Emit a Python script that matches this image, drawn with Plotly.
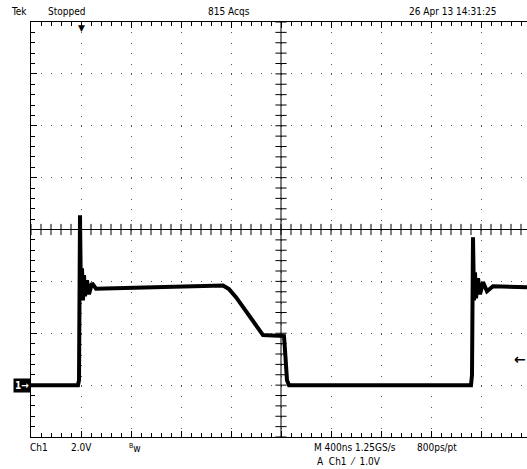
import plotly.graph_objects as go

# ---- Data (time in ns relative to trigger, volts) ----
t_ns = [-400, -24, -16, -8, 0, 8, 16, 24, 32, 48, 64, 88, 120, 560, 1136, 1184,
        1240, 1456, 1624, 1632, 1648, 1664, 3120, 3128, 3136, 3144, 3152, 3160,
        3176, 3192, 3216, 3248, 3296, 3568]
volts = [0.0, 0.0, 0.19, 6.55, 3.27, 4.50, 3.27, 4.24, 3.43, 4.04, 3.50, 3.93,
         3.72, 3.76, 3.84, 3.70, 3.39, 1.93, 1.89, 1.35, 0.19, 0.0, 0.0, 0.39,
         5.70, 3.27, 4.35, 3.35, 4.12, 3.50, 3.97, 3.62, 3.81, 3.77]

# ---- Scope settings ----
time_per_div = 400      # ns
volts_per_div = 2.0     # V
x_range = [-400, 3568]
y_range = [-2, 14]
center_t = 1600
center_v = 6
trigger_t = 0
trigger_level = 1.0

top_texts = ["Tek", "Stopped", "815 Acqs", "26 Apr 13 14:31:25"]
bottom_texts = ["Ch1", "2.0V", "<sup>B</sup>w", "M 400ns 1.25GS/s", "800ps/pt"]
bottom_line2 = "A  Ch1  \u2044  1.0V"

W, H = 527, 469
L, R, T, B = 31, 0, 22, 32
PW, PH = W - L - R, H - T - B

def px(x):          # page pixel -> paper
    return (x - L) / PW

def py(y):
    return (H - B - y) / PH

FONT = "Liberation Sans Narrow, DejaVu Sans Condensed, Arial Narrow, sans-serif"

fig = go.Figure()

# center graticule ticks
minor_t = [x_range[0] + time_per_div / 5 * i for i in range(int((x_range[1] - x_range[0]) / (time_per_div / 5)) + 1)]
minor_v = [y_range[0] + volts_per_div / 5 * i for i in range(41)]
fig.add_trace(go.Scatter(x=minor_t, y=[center_v] * len(minor_t), mode="markers",
                         marker=dict(symbol="line-ns", size=8, line=dict(color="black", width=1)),
                         hoverinfo="skip", showlegend=False, cliponaxis=False))
fig.add_trace(go.Scatter(x=[center_t] * len(minor_v), y=minor_v, mode="markers",
                         marker=dict(symbol="line-ew", size=8, line=dict(color="black", width=1)),
                         hoverinfo="skip", showlegend=False, cliponaxis=False))

# waveform
fig.add_trace(go.Scatter(x=t_ns, y=volts, mode="lines",
                         line=dict(color="black", width=4),
                         hoverinfo="skip", showlegend=False))

fig.add_hline(y=center_v, line=dict(color="black", width=1))
fig.add_vline(x=center_t, line=dict(color="black", width=1))

fig.update_xaxes(range=x_range, tick0=0, dtick=time_per_div, showticklabels=False,
                 ticks="inside", ticklen=6, tickcolor="black", tickwidth=1,
                 showline=True, linecolor="black", linewidth=1, mirror="ticks",
                 showgrid=True, gridcolor="#555", gridwidth=1, griddash="1px,9.4px",
                 zeroline=False,
                 minor=dict(dtick=time_per_div / 5, ticks="inside", ticklen=4,
                            tickcolor="black", showgrid=False))
fig.update_yaxes(range=y_range, tick0=0, dtick=volts_per_div, showticklabels=False,
                 ticks="inside", ticklen=6, tickcolor="black", tickwidth=1,
                 showline=True, linecolor="black", linewidth=1, mirror=False,
                 showgrid=True, gridcolor="#555", gridwidth=1, griddash="1px,9px",
                 zeroline=False,
                 minor=dict(dtick=volts_per_div / 5, ticks="inside", ticklen=4,
                            tickcolor="black", showgrid=False))

ann = []
top_x = [19, 66, 229, 452]
for txt, x in zip(top_texts, top_x):
    ann.append(dict(text=txt, x=px(x), y=py(12), xref="paper", yref="paper",
                    xanchor="center", yanchor="middle", showarrow=False,
                    font=dict(family=FONT, size=10, color="black")))
bot_x = [39, 81, 135, 355, 437]
for txt, x in zip(bottom_texts, bot_x):
    ann.append(dict(text=txt, x=px(x), y=py(448), xref="paper", yref="paper",
                    xanchor="center", yanchor="middle", showarrow=False,
                    font=dict(family=FONT, size=10, color="black")))
ann.append(dict(text=bottom_line2, x=px(315), y=py(461), xref="paper", yref="paper",
                xanchor="left", yanchor="middle", showarrow=False,
                font=dict(family=FONT, size=10, color="black")))
# trigger position marker
ann.append(dict(text="\u25BC", x=trigger_t, y=1, xref="x", yref="paper",
                xanchor="center", yanchor="top", showarrow=False, borderpad=0,
                font=dict(family="DejaVu Sans", size=9, color="black")))
# ground marker
ann.append(dict(text="<b>1\u2192</b>", x=0, y=0, xref="paper", yref="y",
                xanchor="right", yanchor="middle", showarrow=False,
                bgcolor="black", borderpad=1,
                font=dict(family=FONT, size=10, color="white")))
# trigger level marker
ann.append(dict(text="<b>\u2190</b>", x=1, y=trigger_level, xref="paper", yref="y",
                xanchor="right", yanchor="middle", showarrow=False, borderpad=0,
                font=dict(family="DejaVu Sans", size=14, color="black")))

fig.update_layout(width=W, height=H,
                  margin=dict(l=L, r=R, t=T, b=B, pad=0, autoexpand=False),
                  paper_bgcolor="white", plot_bgcolor="white", annotations=ann,
                  showlegend=False)

fig.write_html("out.html", config={"displayModeBar": False},
               post_script="document.body.style.margin='0';document.body.style.overflow='hidden';")
